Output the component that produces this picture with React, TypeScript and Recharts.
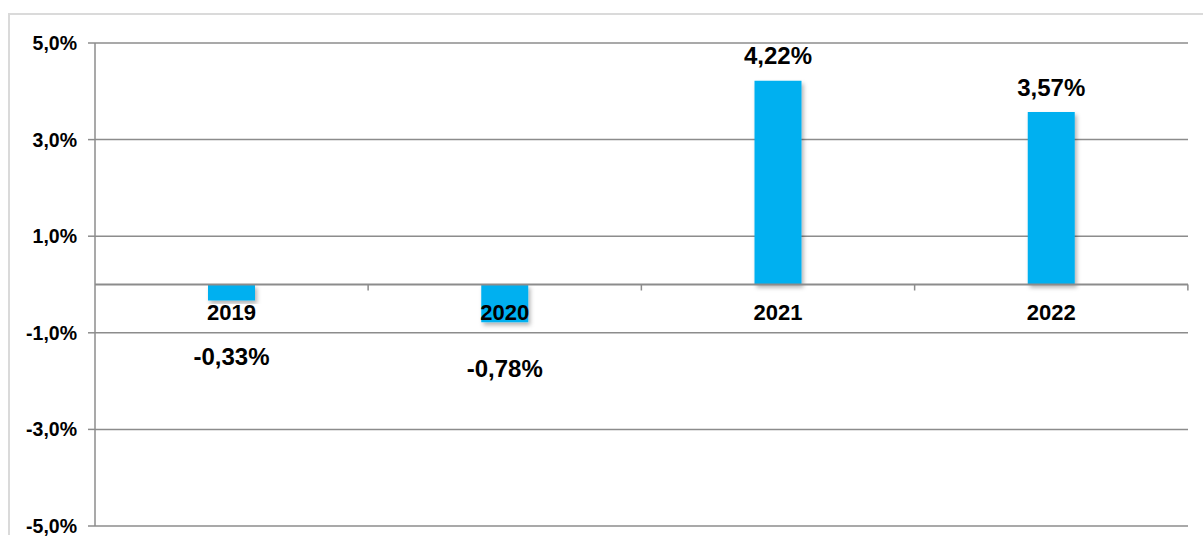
import React from 'react';
import {
  BarChart,
  Bar,
  XAxis,
  YAxis,
  CartesianGrid,
  ReferenceLine,
  LabelList
} from 'recharts';

const years = ['2019', '2020', '2021', '2022'];
const growth = [-0.33, -0.78, 4.22, 3.57];
const yTicks = [-5, -3, -1, 1, 3, 5];

const data = years.map((year, i) => ({ year, value: growth[i] }));

const CHART_W = 1193;
const CHART_H = 529;
const MARGIN = { top: 28, right: 15, bottom: 18, left: 15 };
const Y_AXIS_W = 70;
const PLOT_W = CHART_W - MARGIN.left - MARGIN.right - Y_AXIS_W;
const BAND = PLOT_W / years.length;

const AXIS_GRAY = '#8c8c8c';
const BAR_BLUE = '#00b0f0';
const FONT = '"Liberation Sans", Arial, sans-serif';

const pct = (v: number, digits: number) => `${v.toFixed(digits).replace('.', ',')}%`;

// draws the value label, the year under the zero line and the category tick
const renderBarLabels = (props: any) => {
  const box = props.viewBox ?? props;
  const x = Number(box.x);
  const y = Number(box.y);
  const w = Number(box.width);
  const h = Number(box.height);
  const idx = props.index ?? 0;
  const value = growth[idx];
  const top = Math.min(y, y + h);
  const bottom = Math.max(y, y + h);
  const zeroY = value >= 0 ? bottom : top;
  const barEnd = value >= 0 ? top : bottom;
  const cx = x + w / 2;
  const labelY = value >= 0 ? barEnd - 25 : Math.max(barEnd + 46, zeroY + 72);

  return (
    <g>
      <line x1={cx + BAND / 2} x2={cx + BAND / 2} y1={zeroY} y2={zeroY + 6} stroke={AXIS_GRAY} strokeWidth={1.5} />
      <text
        x={cx}
        y={zeroY + 28}
        textAnchor="middle"
        dominantBaseline="central"
        fontFamily={FONT}
        fontWeight="bold"
        fontSize={22}
        fill="#000"
      >
        {years[idx]}
      </text>
      <text
        x={cx}
        y={labelY}
        textAnchor="middle"
        dominantBaseline="central"
        fontFamily={FONT}
        fontWeight="bold"
        fontSize={24}
        fill="#000"
      >
        {pct(value, 2)}
      </text>
    </g>
  );
};

export default function App() {
  return (
    <div
      style={{
        position: 'absolute',
        left: 8,
        top: 13,
        width: 1195,
        height: 522,
        boxSizing: 'border-box',
        borderTop: '2px solid #dadada',
        borderLeft: '2px solid #dadada',
        background: '#fff'
      }}
    >
      <BarChart width={CHART_W} height={CHART_H} data={data} margin={MARGIN}>
        <defs>
          <filter id="barShadow" x="-20%" y="-20%" width="140%" height="140%">
            <feDropShadow dx="2" dy="3" stdDeviation="2" floodColor="#000" floodOpacity="0.3" />
          </filter>
        </defs>
        <CartesianGrid vertical={false} stroke={AXIS_GRAY} strokeWidth={1.5} />
        <XAxis dataKey="year" hide />
        <YAxis
          width={Y_AXIS_W}
          domain={[-5, 5]}
          ticks={yTicks}
          interval={0}
          tickFormatter={(v: number) => pct(v, 1)}
          stroke={AXIS_GRAY}
          strokeWidth={1.5}
          tickSize={7}
          tickMargin={11}
          tick={{ fill: '#000', fontFamily: FONT, fontWeight: 'bold', fontSize: 19.5 }}
        />
        <Bar dataKey="value" fill={BAR_BLUE} barSize={47} isAnimationActive={false} filter="url(#barShadow)">
          <LabelList dataKey="value" content={renderBarLabels} />
        </Bar>
        <ReferenceLine y={0} stroke={AXIS_GRAY} strokeWidth={2} />
      </BarChart>
    </div>
  );
}
